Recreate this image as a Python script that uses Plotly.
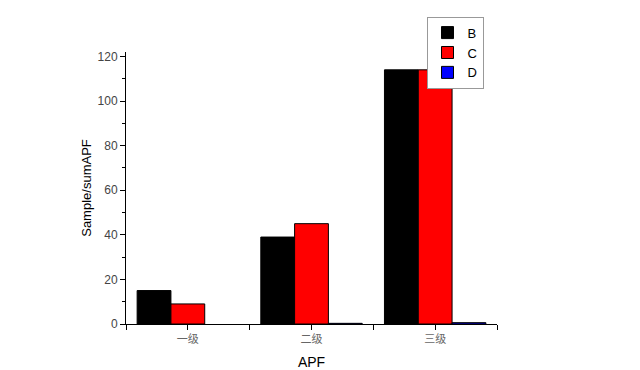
import plotly.graph_objects as go

categories = ["一级", "二级", "三级"]
x_pos = [0, 1, 2]
series_names = ["B", "C", "D"]
B_values = [15, 39, 114]
C_values = [9, 45, 114]
D_values = [None, 0.3, 0.6]
colors = ["#000000", "#ff0000", "#0000ff"]

fig = go.Figure()
for name, vals, col in zip(series_names, [B_values, C_values, D_values], colors):
    fig.add_trace(go.Bar(x=x_pos, y=vals, name=name, marker=dict(color=col, line=dict(color="#000000", width=1))))

fig.update_layout(
    width=640, height=370,
    margin=dict(l=126, r=143, t=52, b=46),
    paper_bgcolor="white", plot_bgcolor="white",
    barmode="group", bargap=0.18, bargroupgap=0,
    font=dict(family="Liberation Sans, Arial", color="#333333", size=12),
    legend=dict(x=0.81, y=1.13, xanchor="left", yanchor="top",
                bordercolor="#999999", borderwidth=1, bgcolor="white",
                font=dict(size=13, color="#000000"), tracegroupgap=0,
                itemwidth=30),
    showlegend=True,
)
fig.update_xaxes(
    range=[-0.5, 2.5], tickvals=x_pos, ticktext=categories,
    tickfont=dict(family="Noto Sans CJK SC", size=11, color="#666666"),
    showline=True, linecolor="#000000", linewidth=1, mirror=False,
    ticks="outside", ticklen=5, tickcolor="#000000",
    minor=dict(tickvals=[-0.5, 0.5, 1.5, 2.5], ticks="outside", ticklen=5, tickcolor="#000000"),
    showgrid=False, zeroline=False, automargin=False,
    title=dict(text="APF", font=dict(size=14, color="#000000"), standoff=14),
)
fig.update_yaxes(
    range=[0, 122], tickvals=[0, 20, 40, 60, 80, 100, 120],
    showline=True, linecolor="#000000", linewidth=1,
    ticks="outside", ticklen=5, tickcolor="#000000",
    minor=dict(dtick=10, ticks="outside", ticklen=3, tickcolor="#000000"),
    showgrid=False, zeroline=False, automargin=False,
    tickfont=dict(size=12, color="#444444"),
    title=dict(text="Sample/sumAPF", font=dict(size=13, color="#000000"), standoff=3),
)

fig.write_html("out.html")
